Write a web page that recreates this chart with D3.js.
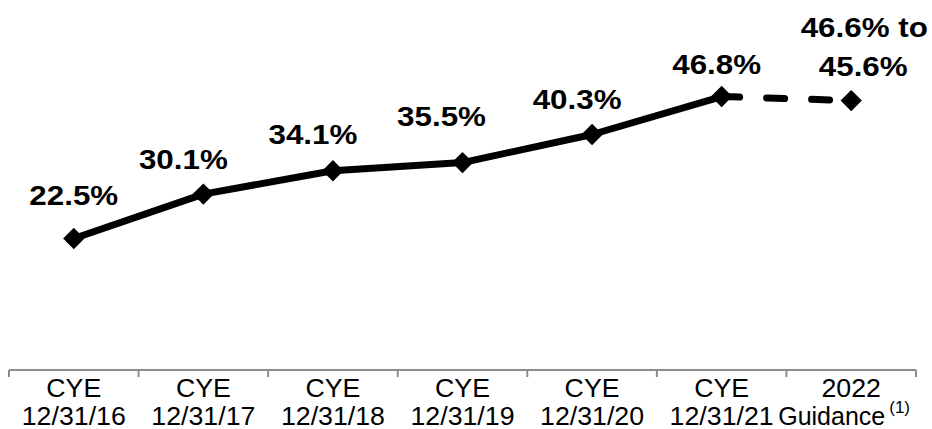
<!DOCTYPE html>
<html><head><meta charset="utf-8">
<script src="https://cdn.jsdelivr.net/npm/d3@7"></script>
<style>body{margin:0;background:#fff;} svg{display:block;}</style>
</head><body>
<svg id="c" width="932" height="429"></svg>
<script>
const categoriesTop = ["CYE","CYE","CYE","CYE","CYE","CYE","2022"];
const categoriesBottom = ["12/31/16","12/31/17","12/31/18","12/31/19","12/31/20","12/31/21","Guidance"];
const values = [22.5, 30.1, 34.1, 35.5, 40.3, 46.8, 46.1];
const labels = [["22.5%"],["30.1%"],["34.1%"],["35.5%"],["40.3%"],["46.8%"],["46.6% to","45.6%"]];
const footnote = "(1)";

// layout (label offsets relative to the point)
const labelDx = [0, -20, -20, -21, -15, -5, 13];
const labelDy = [-34, -25, -27, -37, -26, -23, -64];

const svg = d3.select("#c");
const x = d3.scaleBand().domain(d3.range(categoriesTop.length)).range([9, 916]).paddingInner(0).paddingOuter(0);
const y = d3.scaleLinear().domain([0, 60]).range([370, 19.4]);
const cx = i => x(i) + x.bandwidth()/2;

// axis
const axisY = 370;
const ax = svg.append("g").attr("transform", `translate(0,${axisY})`)
  .call(d3.axisBottom(x).tickSize(0).tickFormat(""));
ax.select(".domain").remove();
ax.append("line").attr("x1", 9).attr("x2", 916).attr("y1", 0).attr("y2", 0)
  .attr("stroke", "#8c8c8c").attr("stroke-width", 2);
const edges = d3.range(categoriesTop.length + 1).map(i => i < categoriesTop.length ? x(i) : x(i-1) + x.bandwidth());
ax.selectAll("line.tk").data(edges).join("line").attr("class","tk")
  .attr("x1", d => d).attr("x2", d => d).attr("y1", 0).attr("y2", 7)
  .attr("stroke", "#8c8c8c").attr("stroke-width", 2);

const font = "'Liberation Sans', Arial, sans-serif";
const axSX = 1.07;
categoriesTop.forEach((c, i) => {
  svg.append("text").attr("transform", `translate(${cx(i)},397) scale(${axSX},1)`)
    .attr("text-anchor","middle").attr("font-family", font).attr("font-size", 25).attr("fill","#000").text(c);
});
categoriesBottom.forEach((c, i) => {
  if (i === categoriesBottom.length - 1) {
    svg.append("text").attr("transform", `translate(${cx(i)+34},425) scale(1.0,1)`)
      .attr("text-anchor","end").attr("font-family", font).attr("font-size", 25).attr("fill","#000").text(c);
    svg.append("text").attr("transform", `translate(${cx(i)+38},413)`)
      .attr("text-anchor","start").attr("font-family", font).attr("font-size", 17).attr("fill","#000").text(footnote);
  } else {
    svg.append("text").attr("transform", `translate(${cx(i)},425) scale(${axSX},1)`)
      .attr("text-anchor","middle").attr("font-family", font).attr("font-size", 25).attr("fill","#000").text(c);
  }
});

// lines
const line = d3.line().x(d => cx(d.i)).y(d => y(d.v));
const pts = values.map((v, i) => ({i, v}));
svg.append("path").datum(pts.slice(0, 6)).attr("d", line)
  .attr("fill","none").attr("stroke","#000").attr("stroke-width", 7).attr("stroke-linejoin","round");
svg.append("path").datum(pts.slice(5)).attr("d", line)
  .attr("fill","none").attr("stroke","#000").attr("stroke-width", 7)
  .attr("stroke-linecap","round").attr("stroke-dasharray","18,27");

// markers
const sym = d3.symbol().type(d3.symbolDiamond2).size(290);
svg.selectAll("path.mk").data(pts).join("path").attr("class","mk")
  .attr("d", sym).attr("transform", d => `translate(${cx(d.i)},${y(d.v)})`)
  .attr("fill","#000");

// data labels
const lbSX = 1.14;
labels.forEach((ls, i) => {
  ls.forEach((t, k) => {
    const by = y(values[i]) + labelDy[i] + k * 39;
    svg.append("text").attr("transform", `translate(${cx(i) + labelDx[i] - (k===1?1:0)},${by}) scale(${lbSX},1)`)
      .attr("text-anchor","middle").attr("font-family", font).attr("font-weight","bold")
      .attr("font-size", 27.5).attr("fill","#000").text(t);
  });
});
</script>
</body></html>
